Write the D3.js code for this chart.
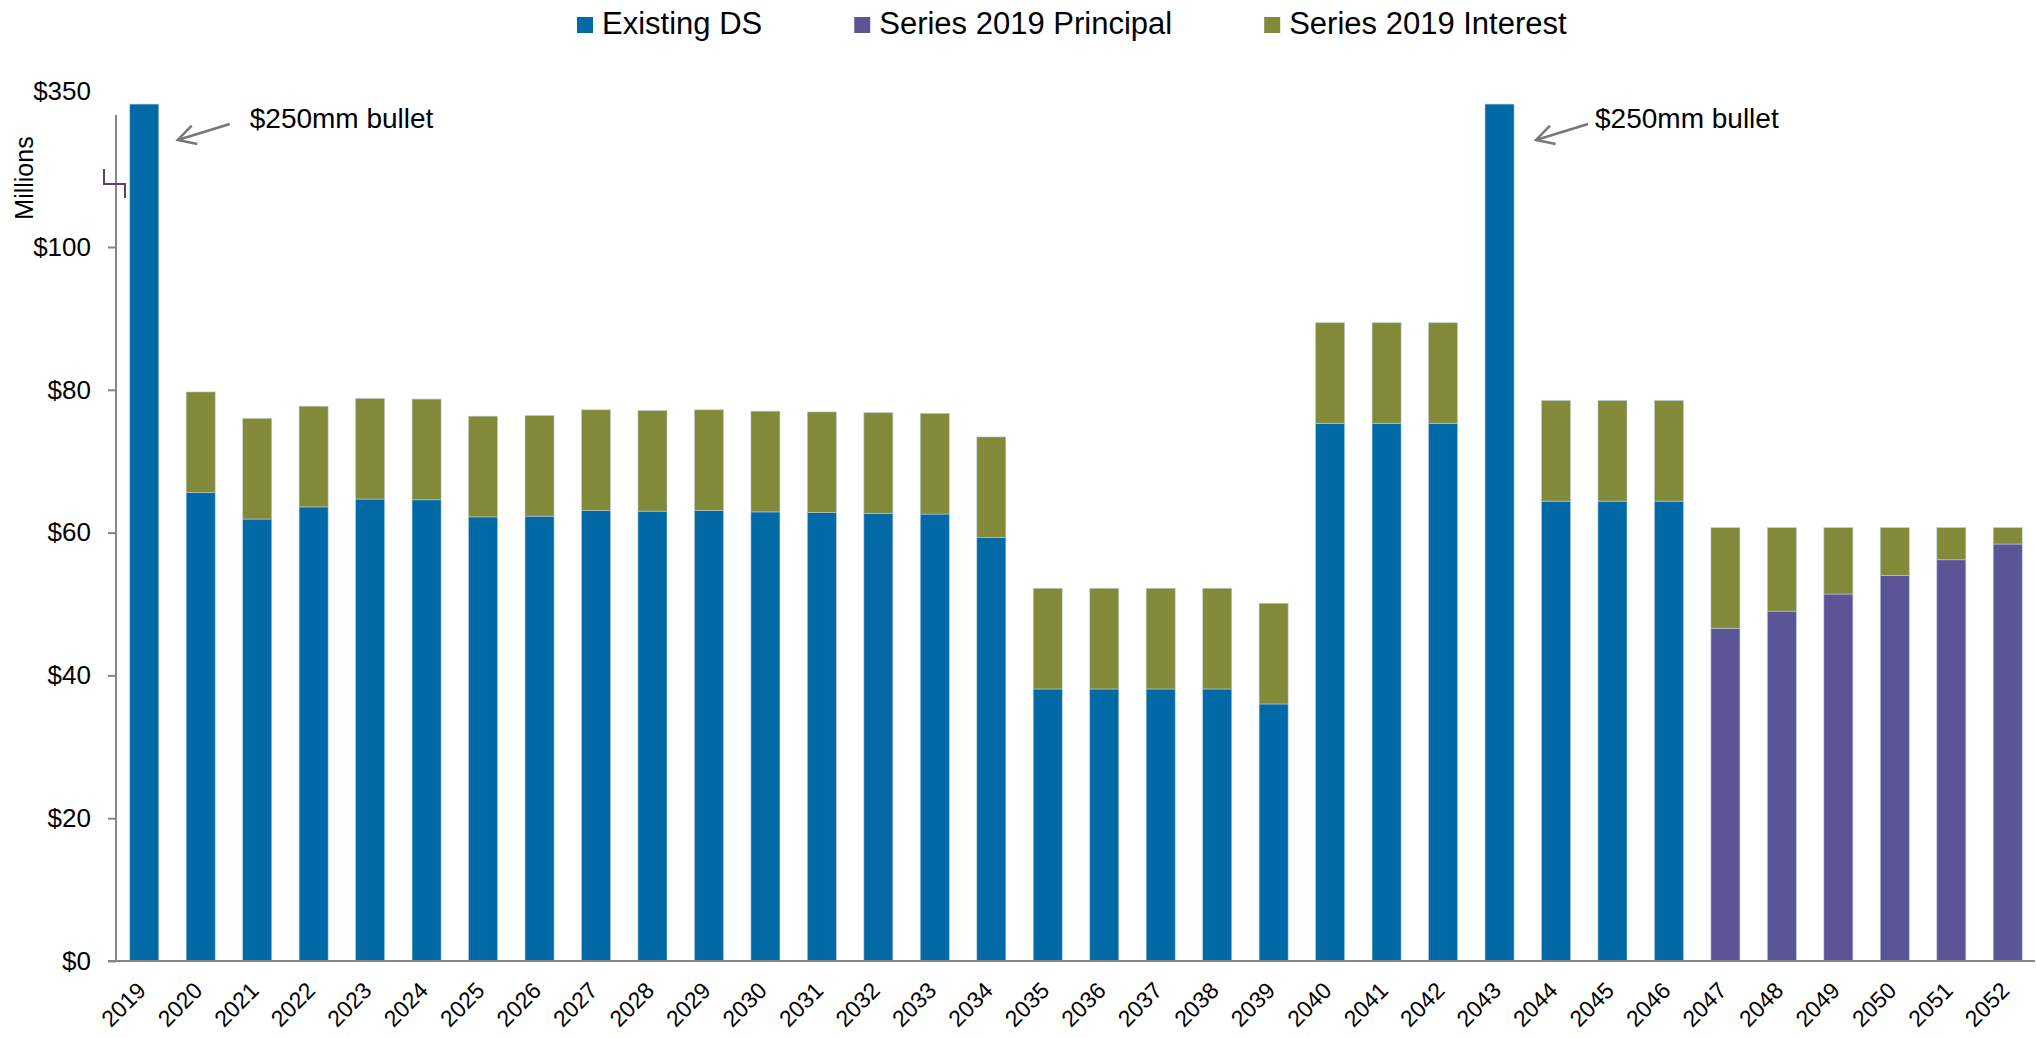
<!DOCTYPE html>
<html>
<head>
<meta charset="utf-8">
<script src="https://cdn.jsdelivr.net/npm/d3@7"></script>
<style>
  html, body { margin: 0; padding: 0; background: #fff; }
  svg { display: block; font-family: "Liberation Sans", Arial, sans-serif; }
</style>
</head>
<body>
<svg id="chart" width="2036" height="1038"></svg>
<script>
// Debt service by fiscal year ($ millions)
const years = ["2019","2020","2021","2022","2023","2024","2025","2026","2027","2028",
  "2029","2030","2031","2032","2033","2034","2035","2036","2037","2038","2039","2040",
  "2041","2042","2043","2044","2045","2046","2047","2048","2049","2050","2051","2052"];

const existingDS = [329, 65.6, 61.9, 63.6, 64.7, 64.6, 62.2, 62.3, 63.1, 63.0,
  63.1, 62.9, 62.8, 62.7, 62.6, 59.3, 38.1, 38.1, 38.1, 38.1, 36.0, 75.3,
  75.3, 75.3, 329, 64.4, 64.4, 64.4, 0, 0, 0, 0, 0, 0];

const principal2019 = [0, 0, 0, 0, 0, 0, 0, 0, 0, 0,
  0, 0, 0, 0, 0, 0, 0, 0, 0, 0, 0, 0,
  0, 0, 0, 0, 0, 0, 46.6, 49.0, 51.4, 54.0, 56.2, 58.4];

const interest2019 = [0, 14.1, 14.1, 14.1, 14.1, 14.1, 14.1, 14.1, 14.1, 14.1,
  14.1, 14.1, 14.1, 14.1, 14.1, 14.1, 14.1, 14.1, 14.1, 14.1, 14.1, 14.1,
  14.1, 14.1, 0, 14.1, 14.1, 14.1, 14.1, 11.7, 9.3, 6.7, 4.5, 2.3];

const seriesNames = ["Existing DS", "Series 2019 Principal", "Series 2019 Interest"];
const yTickValues = [0, 20, 40, 60, 80, 100, 350];
const bulletNotes = [
  { year: "2019", text: "$250mm bullet" },
  { year: "2043", text: "$250mm bullet" }
];

const colors = ["#0069a6", "#5b5597", "#828a3a"];

const rows = years.map((yr, i) => ({
  year: yr,
  "Existing DS": existingDS[i],
  "Series 2019 Principal": principal2019[i],
  "Series 2019 Interest": interest2019[i]
}));

const svg = d3.select("#chart");

// Broken value axis: 0–100 linear, then compressed up to 350
const y = d3.scaleLinear().domain([0, 100, 350]).range([961, 247, 91]);
const x = d3.scaleBand().domain(years).range([116, 2036])
  .paddingInner(0.486).paddingOuter(0.243);
const axisX = 116;

// Stacked bars
const stacked = d3.stack().keys(seriesNames)(rows);
svg.append("g").selectAll("g").data(stacked).join("g")
  .attr("fill", (d, i) => colors[i])
  .selectAll("rect").data(d => d.filter(s => s[1] - s[0] > 0)).join("rect")
  .attr("x", d => x(d.data.year))
  .attr("width", x.bandwidth())
  .attr("y", d => y(d[1]))
  .attr("height", d => y(d[0]) - y(d[1]))
  .attr("stroke", "rgba(190,205,220,0.7)")
  .attr("stroke-width", 0.8);

// Value axis
const yAxis = d3.axisLeft(y).tickValues(yTickValues)
  .tickFormat(d => "$" + d).tickSize(8).tickPadding(17);
const gy = svg.append("g").attr("transform", `translate(${axisX},0)`).call(yAxis);
gy.select(".domain").remove();
gy.selectAll(".tick line").attr("stroke", "#868686").attr("stroke-width", 2)
  .filter(d => d > 100).remove();
gy.selectAll(".tick text").attr("font-size", 26).attr("fill", "#000")
  .attr("font-family", "'Liberation Sans', Arial, sans-serif");
svg.append("line").attr("x1", axisX).attr("x2", axisX)
  .attr("y1", y(100) - 132).attr("y2", y(0))
  .attr("stroke", "#868686").attr("stroke-width", 2);

// Axis break marker
const brk = y(100);
svg.append("polyline")
  .attr("points", [[axisX - 12, brk - 78], [axisX - 12, brk - 63], [axisX + 9, brk - 63], [axisX + 9, brk - 49]].join(" "))
  .attr("fill", "none").attr("stroke", "#5e3c80").attr("stroke-width", 2);

// Axis title
svg.append("text").attr("transform", "translate(33,178) rotate(-90)")
  .attr("text-anchor", "middle").attr("font-size", 25).attr("fill", "#000")
  .text("Millions");

// Category axis
const xAxis = d3.axisBottom(x).tickSize(0).tickPadding(0);
const gx = svg.append("g").attr("transform", `translate(0,${y(0)})`).call(xAxis);
gx.select(".domain").remove();
gx.selectAll(".tick text")
  .attr("font-size", 23).attr("fill", "#000")
  .attr("font-family", "'Liberation Sans', Arial, sans-serif")
  .attr("text-anchor", "end")
  .attr("dy", null).attr("y", null)
  .attr("transform", "translate(3,31) rotate(-45)");
svg.append("line").attr("x1", axisX - 8).attr("x2", 2035)
  .attr("y1", y(0)).attr("y2", y(0))
  .attr("stroke", "#868686").attr("stroke-width", 2);

// Bullet annotations
const noteLayout = { "2019": { tip: 19, tail: 71, text: 91 }, "2043": { tip: 22, tail: 74, text: 81 } };
bulletNotes.forEach(n => {
  const right = x(n.year) + x.bandwidth();
  const L = noteLayout[n.year];
  const tip = [right + L.tip, y(350) + 49];
  const tail = [right + L.tail, y(350) + 33];
  const g = svg.append("g").attr("stroke", "#777").attr("stroke-width", 2.5).attr("fill", "none");
  g.append("line").attr("x1", tail[0]).attr("y1", tail[1]).attr("x2", tip[0]).attr("y2", tip[1]);
  const ang = Math.atan2(tail[1] - tip[1], tail[0] - tip[0]);
  const len = 20, spread = 0.5;
  const a1 = [tip[0] + len * Math.cos(ang - spread), tip[1] + len * Math.sin(ang - spread)];
  const a2 = [tip[0] + len * Math.cos(ang + spread), tip[1] + len * Math.sin(ang + spread)];
  g.append("polyline").attr("points", [a1, tip, a2].join(" "));
  svg.append("text").attr("x", right + L.text).attr("y", y(350) + 37)
    .attr("font-size", 28).attr("fill", "#000").text(n.text);
});

// Legend
const legend = svg.append("g");
let lx = 577;
seriesNames.forEach((name, i) => {
  legend.append("rect").attr("x", lx).attr("y", 17).attr("width", 16).attr("height", 16)
    .attr("fill", colors[i]);
  const t = legend.append("text").attr("x", lx + 25).attr("y", 34)
    .attr("font-size", 31).attr("fill", "#000").text(name);
  lx += 25 + t.node().getComputedTextLength() + 92;
});
</script>
</body>
</html>
